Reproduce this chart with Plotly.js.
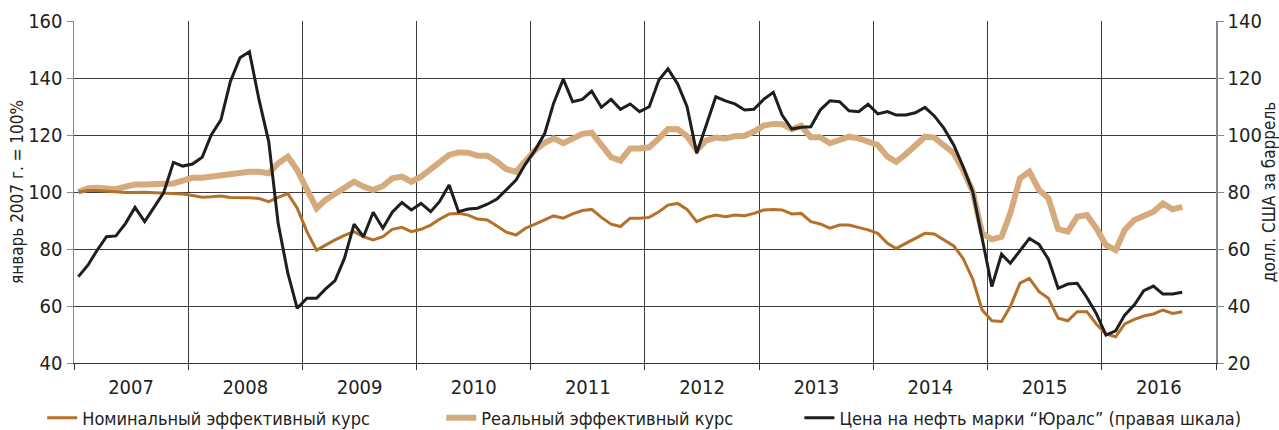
<!DOCTYPE html>
<html>
<head>
<meta charset="utf-8">
<script src="https://cdn.plot.ly/plotly-3.0.1.min.js"></script>
<style>
  body { margin: 0; background: #fff; }
  #chart { width: 1279px; height: 430px; }
</style>
</head>
<body>
<div id="chart"></div>
<script>
// monthly data, Jan 2007 - Sep 2016
let startYear = 2007;
let nMonths = 117;

// nominal effective rate, Jan 2007 = 100 (left axis)
let nominal = [100,100.5,100.5,100.2,100,99.8,99.8,99.9,99.7,99.6,99.3,99.3,
  98.8,98.2,98.3,98.6,98.1,98.1,98,97.7,96.6,98.1,99.4,94.3,
  86.1,79.6,81.4,83.2,84.8,86.1,84.3,83.2,84.3,86.9,87.6,86.1,
  86.9,88.4,90.4,92.3,92.5,91.9,90.5,90.2,88.1,85.9,84.9,87.3,
  88.7,90.2,91.6,90.8,92.3,93.5,93.9,91.1,88.7,87.9,90.8,90.8,
  91.1,93.1,95.4,96,93.9,89.6,91.1,91.9,91.3,91.9,91.7,92.5,
  93.7,93.9,93.7,92.3,92.5,89.6,88.8,87.3,88.4,88.4,87.6,86.7,
  85.5,82,80.2,82,83.7,85.5,85.3,83.2,81.1,76.7,69.4,58.6,
  54.8,54.6,59.8,68,69.7,65,62.7,55.7,54.8,58,58,53.7,
  50.2,49.2,53.7,55.3,56.5,57.2,58.6,57.4,58];

// real effective rate (left axis)
let real = [100,101.3,101.5,101.2,101,101.9,102.6,102.6,102.6,103,103,104,
  105,105,105.4,106.2,106.6,107,107.1,107.1,106.6,110.1,112.4,107.7,
  100.7,94.3,97.2,99.5,101.9,103.6,101.9,100.7,102.1,104.8,105.4,103.6,
  105.4,108,110.6,113,113.9,113.8,112.7,112.7,110.6,108,107.1,111.2,
  114.7,117.3,118.8,117.1,118.6,120.4,120.8,116.5,112.2,111,115.3,115.3,
  115.7,118.8,122.1,122,119.6,114.7,118,119.1,118.8,119.6,119.7,121.2,
  123.3,123.9,123.8,122,123.2,119.2,119.2,117.1,118.5,119.4,118.8,117.6,
  116.5,112.4,110.6,113.3,116.5,119.4,119.1,116.5,113.6,107.7,100.1,85.5,
  83.4,84.3,92.5,104.8,107.1,100.7,97.8,87,86.1,91.3,91.9,87.3,
  81.4,79.6,86.7,90.2,91.9,93.1,96,93.9,94.8];

// Urals oil price, USD per barrel (right axis)
let urals = [50.3,54.4,59.4,64.3,64.6,69,74.6,69.6,74.8,79.8,90.4,89.1,
  89.8,92.2,100,105.3,118.7,127.1,129.2,112.3,97.6,69,51.5,39.2,
  42.7,42.7,45.9,48.9,56.7,68.7,64.3,72.9,67.3,72.9,76.3,73.7,
  76,73.1,76.6,82.5,73.1,74,74.3,75.7,77.5,80.7,84.2,89.8,
  94.7,100.6,111.1,119.6,111.7,112.5,115.4,109.7,112.5,109,110.9,108.2,
  109.9,119.3,123.2,117.9,109.9,93.6,103.5,113.4,112,110.9,108.8,109,
  112.5,115,107,102.1,102.7,102.9,108.8,112,111.7,108.5,108.2,110.8,
  107.4,108.2,107,107,107.8,109.7,106.7,102.3,96.5,88.9,80.1,63.2,
  46.8,58.2,55,59.4,63.7,61.6,56.4,46.2,47.7,48,43,37.4,
  29.8,31.3,36.8,40.4,45.4,47,44.2,44.2,44.8];

let seriesNames = ["Номинальный эффективный курс", "Реальный эффективный курс",
  "Цена на нефть марки “Юралс” (правая шкала)"];

// mid-month dates
let months = [];
for (let i = 0; i < nMonths; i++) {
  let y = startYear + Math.floor(i / 12);
  let m = (i % 12) + 1;
  months.push(y + "-" + (m < 10 ? "0" + m : m) + "-15");
}

let fontFam = "Liberation Sans Narrow, DejaVu Sans Condensed, Arial Narrow, sans-serif";

let traceReal = {
  x: months, y: real, name: seriesNames[1], type: "scatter", mode: "lines",
  line: { color: "#d5aa7d", width: 6 }, legend: "legend2"
};
let traceNom = {
  x: months, y: nominal, name: seriesNames[0], type: "scatter", mode: "lines",
  line: { color: "#b4712a", width: 3 }, legend: "legend"
};
let traceOil = {
  x: months, y: urals, name: seriesNames[2], type: "scatter", mode: "lines",
  yaxis: "y2", line: { color: "#1e1e1e", width: 3 }, legend: "legend3"
};

let legendBase = {
  orientation: "h", xref: "container", yref: "container",
  y: 0.028, yanchor: "middle", xanchor: "left",
  font: { family: fontFam, size: 18, color: "#222" },
  bgcolor: "rgba(0,0,0,0)"
};

let layout = {
  width: 1279, height: 430,
  margin: { l: 74, r: 63, t: 21, b: 67 },
  paper_bgcolor: "#fff", plot_bgcolor: "#fff",
  font: { family: fontFam, size: 20, color: "#222" },
  showlegend: true,
  legend: Object.assign({}, legendBase, { x: 0.033 }),
  legend2: Object.assign({}, legendBase, { x: 0.345 }),
  legend3: Object.assign({}, legendBase, { x: 0.625 }),
  xaxis: {
    type: "date",
    range: ["2007-01-01", "2017-01-01"],
    tick0: "2007-01-01", dtick: "M12",
    tickformat: "%Y", ticklabelmode: "period",
    showgrid: true, gridcolor: "#3c3c3c", gridwidth: 1,
    showline: true, linecolor: "#333", linewidth: 1,
    ticks: "outside", ticklen: 6, tickcolor: "#333",
    tickfont: { family: fontFam, size: 20, color: "#222" },
    zeroline: false
  },
  yaxis: {
    range: [40, 160], dtick: 20,
    showgrid: true, gridcolor: "#3c3c3c", gridwidth: 1,
    showline: true, linecolor: "#888", linewidth: 1.5,
    ticks: "outside", ticklen: 6, tickcolor: "#888",
    tickfont: { family: fontFam, size: 20, color: "#222" },
    title: { text: "январь 2007 г. = 100%", font: { family: fontFam, size: 17, color: "#222" }, standoff: 0 },
    zeroline: false
  },
  yaxis2: {
    range: [20, 140], dtick: 20, overlaying: "y", side: "right",
    showgrid: false,
    showline: true, linecolor: "#888", linewidth: 1.5,
    ticks: "outside", ticklen: 6, tickcolor: "#888",
    tickfont: { family: fontFam, size: 20, color: "#222" },
    title: { text: "долл. США за баррель", font: { family: fontFam, size: 17, color: "#222" }, standoff: 0 },
    zeroline: false
  }
};

Plotly.newPlot("chart", [traceReal, traceNom, traceOil], layout, { displayModeBar: false, staticPlot: true });
</script>
</body>
</html>
